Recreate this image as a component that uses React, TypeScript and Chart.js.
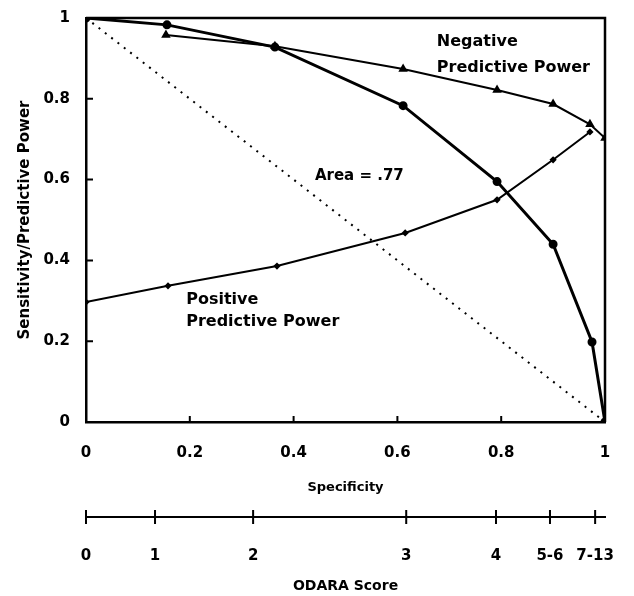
import { useEffect, useRef } from 'react';
import { Chart, registerables } from 'chart.js';

Chart.register(...registerables);

// Sensitivity (ROC) curve
const specificity = [0, 0.156, 0.364, 0.611, 0.792, 0.9, 0.975, 1];
const sensitivity = [1, 0.983, 0.928, 0.783, 0.595, 0.44, 0.198, 0];

// Negative predictive power
const nppSpecificity = [0.154, 0.364, 0.611, 0.792, 0.9, 0.971, 1];
const nppValues = [0.958, 0.93, 0.874, 0.822, 0.787, 0.737, 0.703];

// Positive predictive power
const pppSpecificity = [0, 0.158, 0.368, 0.615, 0.792, 0.9, 0.971];
const pppValues = [0.297, 0.337, 0.386, 0.468, 0.55, 0.649, 0.718];

// Chance diagonal
const chanceX = [0, 1];
const chanceY = [1, 0];

// ODARA score axis
const odaraScores = ['0', '1', '2', '3', '4', '5-6', '7-13'];
const odaraSpecificity = [0, 0.133, 0.322, 0.617, 0.79, 0.894, 0.981];

const FONT = 'DejaVu Sans';

const toPoints = (xs: number[], ys: number[]) => xs.map((x, i) => ({ x, y: ys[i] }));
const fmt = (v: any) => String(Number(Number(v).toFixed(1)));

const decorPlugin = {
  id: 'decor',
  afterDatasetsDraw(chart: any) {
    const { ctx, chartArea: a, scales } = chart;
    const xs = scales.x;
    const ys = scales.y;
    const x2 = scales.x2;
    ctx.save();
    ctx.strokeStyle = '#000';
    ctx.lineWidth = 2.5;
    ctx.beginPath();
    ctx.moveTo(a.left, a.top);
    ctx.lineTo(a.right, a.top);
    ctx.lineTo(a.right, a.bottom);
    ctx.stroke();

    ctx.lineWidth = 2;
    ctx.beginPath();
    ys.ticks.forEach((t: any) => {
      const py = ys.getPixelForValue(t.value);
      ctx.moveTo(a.left, py);
      ctx.lineTo(a.left + 7, py);
    });
    xs.ticks.forEach((t: any) => {
      const px = xs.getPixelForValue(t.value);
      ctx.moveTo(px, a.bottom);
      ctx.lineTo(px, a.bottom - 6);
    });
    x2.ticks.forEach((t: any) => {
      const px = x2.getPixelForValue(t.value);
      ctx.moveTo(px, x2.top - 7);
      ctx.lineTo(px, x2.top + 7);
    });
    ctx.stroke();

    ctx.fillStyle = '#000';
    ctx.textBaseline = 'middle';
    ctx.textAlign = 'left';
    ctx.font = `bold 16px "${FONT}"`;
    const put = (text: string, x: number, y: number) =>
      ctx.fillText(text, xs.getPixelForValue(x), ys.getPixelForValue(y));
    put('Negative', 0.676, 0.941);
    put('Predictive Power', 0.676, 0.876);
    put('Positive', 0.193, 0.302);
    put('Predictive Power', 0.193, 0.248);
    ctx.font = `bold 15px "${FONT}"`;
    put('Area = .77', 0.441, 0.609);
    ctx.restore();
  },
};

const noHPad = (s: any) => {
  s.paddingLeft = 0;
  s.paddingRight = 0;
};

export default function App() {
  const ref = useRef<HTMLCanvasElement>(null);

  useEffect(() => {
    document.body.style.margin = '0';
    Chart.defaults.color = '#000';
    const chart = new Chart(ref.current as HTMLCanvasElement, {
      type: 'line',
      data: {
        datasets: [
          {
            label: 'Sensitivity',
            data: toPoints(specificity, sensitivity),
            borderColor: '#000',
            backgroundColor: '#000',
            borderWidth: 3,
            pointStyle: 'circle',
            pointRadius: 3,
            tension: 0,
          },
          {
            label: 'Negative Predictive Power',
            data: toPoints(nppSpecificity, nppValues),
            borderColor: '#000',
            backgroundColor: '#000',
            borderWidth: 2,
            pointStyle: 'triangle',
            pointRadius: 3.5,
            tension: 0,
          },
          {
            label: 'Positive Predictive Power',
            data: toPoints(pppSpecificity, pppValues),
            borderColor: '#000',
            backgroundColor: '#000',
            borderWidth: 2,
            pointStyle: 'rectRot',
            pointRadius: 2.2,
            tension: 0,
          },
          {
            label: 'Chance',
            data: toPoints(chanceX, chanceY),
            borderColor: '#000',
            borderWidth: 2,
            borderDash: [2, 6],
            pointRadius: 0,
            tension: 0,
          },
        ],
      },
      options: {
        animation: false,
        responsive: false,
        devicePixelRatio: 1,
        layout: { padding: { left: 0, right: 29, top: 18, bottom: 0 } },
        plugins: {
          legend: { display: false },
          tooltip: { enabled: false },
        },
        scales: {
          x: {
            type: 'linear',
            position: 'bottom',
            min: 0,
            max: 1,
            weight: 0,
            ticks: {
              stepSize: 0.2,
              padding: 22,
              maxRotation: 0,
              font: { family: FONT, size: 15, weight: 'bold' },
              callback: fmt,
            },
            grid: { display: false, drawTicks: false },
            border: { display: true, width: 2.5, color: '#000' },
            title: {
              display: true,
              text: 'Specificity',
              font: { family: FONT, size: 13, weight: 'bold' },
              padding: { top: 0, bottom: 22 },
            },
            afterFit: (s: any) => {
              s.height = 95;
              noHPad(s);
            },
          },
          x2: {
            type: 'linear',
            position: 'bottom',
            min: 0,
            max: 1,
            weight: 1,
            afterBuildTicks: (s: any) => {
              s.ticks = odaraSpecificity.map((v) => ({ value: v }));
            },
            ticks: {
              autoSkip: false,
              maxRotation: 0,
              padding: 30,
              font: { family: FONT, size: 15, weight: 'bold' },
              callback: (_v: any, i: number) => odaraScores[i],
            },
            grid: { display: false, drawTicks: false },
            border: { display: true, width: 2, color: '#000' },
            title: {
              display: true,
              text: 'ODARA Score',
              font: { family: FONT, size: 14, weight: 'bold' },
              padding: { top: 0, bottom: 1 },
            },
            afterFit: (s: any) => {
              s.height = 79;
              noHPad(s);
            },
          },
          y: {
            type: 'linear',
            min: 0,
            max: 1,
            ticks: {
              stepSize: 0.2,
              padding: 16,
              font: { family: FONT, size: 15, weight: 'bold' },
              callback: fmt,
            },
            grid: { display: false, drawTicks: false },
            border: { display: true, width: 2.5, color: '#000' },
            title: {
              display: true,
              text: 'Sensitivity/Predictive Power',
              font: { family: FONT, size: 15, weight: 'bold' },
              padding: { top: 16, bottom: 0 },
            },
            afterFit: (s: any) => {
              s.width = 86;
              s.paddingTop = 0;
              s.paddingBottom = 0;
            },
          },
        },
      },
      plugins: [decorPlugin],
    } as any);
    return () => chart.destroy();
  }, []);

  return (
    <div style={{ width: 634, height: 596 }}>
      <canvas ref={ref} width={634} height={596} style={{ display: 'block' }} />
    </div>
  );
}
